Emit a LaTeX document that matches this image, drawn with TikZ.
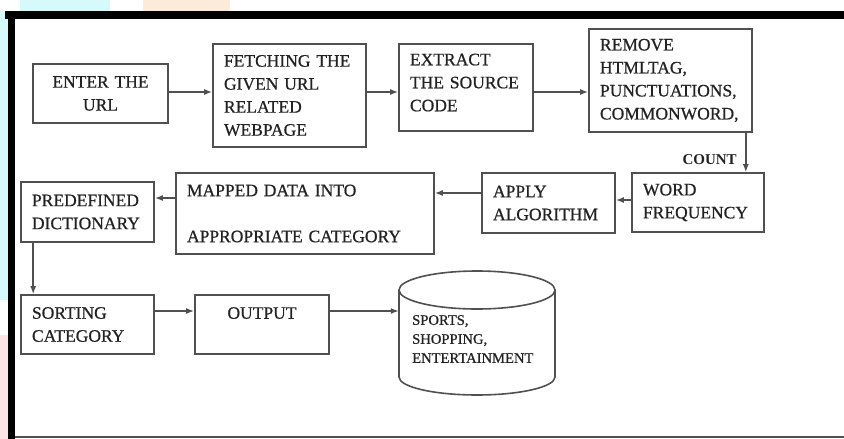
\documentclass[tikz,border=0pt]{standalone}
\usepackage{fontspec}
\setmainfont{Liberation Serif}
\newfontfamily\boxfont{Liberation Serif}[FakeBold=0.7]
\usetikzlibrary{arrows.meta}
\definecolor{edge}{HTML}{505050}
\definecolor{ink}{HTML}{222222}
\definecolor{paleCyan}{HTML}{D6FAFC}
\definecolor{palePeach}{HTML}{FDEBDA}
\definecolor{palePink}{HTML}{FDE3E6}
\tikzset{
  stage/.style={draw=edge, line width=1.6pt, text=ink, inner xsep=11pt, inner ysep=0pt,
    font=\boxfont\fontsize{17.5}{23}\selectfont, align=left},
  flow/.style={-{Latex[length=8pt,width=6pt]}, draw=edge, line width=1.5pt}
}

\begin{document}
\begin{tikzpicture}[x=1pt,y=-1pt]
    \useasboundingbox (0,0) rectangle (844,439);
    % bits of the page around the figure
    \fill[paleCyan] (20,0) rectangle (110,11);
    \fill[palePeach] (143,0) rectangle (230,11);
    \fill[paleCyan] (0,11) rectangle (8,300);
    \fill[palePink] (0,335) rectangle (8,439);
    % frame
    \draw[line width=8pt] (5,15) -- (844,15);
    \draw[line width=7pt] (11.5,11) -- (11.5,439);
    \draw[edge, line width=1.2pt] (15,437) -- (844,437);

    \node[stage, align=center, text width=113pt, minimum height=59pt] (url) at (100.5,93.5) {ENTER THE\\URL};
    \node[stage, text width=131pt, minimum height=103pt] (fetch) at (289.5,95.5) {FETCHING THE\\GIVEN URL\\RELATED\\WEBPAGE};
    \node[stage, text width=112pt, minimum height=87pt] (extract) at (466,87.5) {EXTRACT\\THE SOURCE\\CODE\\[-13pt]\mbox{}};
    \node[stage, text width=141pt, minimum height=103pt] (remove) at (670.5,80.5) {REMOVE\\HTMLTAG,\\PUNCTUATIONS,\\COMMONWORD,};
    \node[stage, text width=110pt, minimum height=59pt] (word) at (698,202.5) {WORD\\FREQUENCY};
    \node[stage, text width=111pt, minimum height=60pt] (apply) at (548.5,203) {APPLY\\ALGORITHM};
    \node[stage, text width=236pt, minimum height=81pt] (mapped) at (305,213.5) {MAPPED DATA INTO\\[23pt]APPROPRIATE CATEGORY};
    \node[stage, text width=111pt, minimum height=60pt] (dict) at (87.5,212) {PREDEFINED\\DICTIONARY};
    \node[stage, text width=111pt, minimum height=59pt] (sort) at (87.5,324.5) {SORTING\\CATEGORY};
    \node[stage, align=center, text width=112pt, minimum height=59pt] (output) at (262,324.5) {OUTPUT\\\mbox{}};

    % store
    \node[minimum width=156pt, minimum height=124pt, inner sep=0pt] (db) at (477,333) {};
    \draw[edge, line width=1.6pt] (399,290) -- (399,377) arc[start angle=180, end angle=360, x radius=78pt, y radius=18pt] -- (555,290);
    \draw[edge, line width=1.6pt] (477,290) ellipse [x radius=78pt, y radius=19pt];
    \node[text=ink, font=\boxfont\fontsize{14.6}{19}\selectfont, align=left, anchor=west, inner sep=0pt] (dbtext) at (412,339) {SPORTS,\\SHOPPING,\\ENTERTAINMENT};

    \coordinate (r1) at (0,92);
    \coordinate (r2) at (0,200);
    \coordinate (r3) at (0,193);
    \coordinate (r4) at (0,198);
    \coordinate (r5) at (0,311);
    \draw[flow] (url.east |- r1) -- (fetch.west |- r1);
    \draw[flow] (fetch.east |- r1) -- (extract.west |- r1);
    \draw[flow] (extract.east |- r1) -- (remove.west |- r1);
    \draw[flow] ([xshift=-19pt]word.north east |- remove.south) -- node[left=5pt, pos=0.68, text=ink, font=\fontsize{15}{17}\selectfont\bfseries] (count) {COUNT} ([xshift=-19pt]word.north east);
    \draw[flow] (word.west |- r2) -- (apply.east |- r2);
    \draw[flow] (apply.west |- r3) -- (mapped.east |- r3);
    \draw[flow] (mapped.west |- r4) -- (dict.east |- r4);
    \draw[flow] ([xshift=13pt]dict.south west) -- ([xshift=13pt]sort.north west);
    \draw[flow] (sort.east |- r5) -- (output.west |- r5);
    \draw[flow] (output.east |- r5) -- (db.west |- r5);
\end{tikzpicture}
\end{document}
